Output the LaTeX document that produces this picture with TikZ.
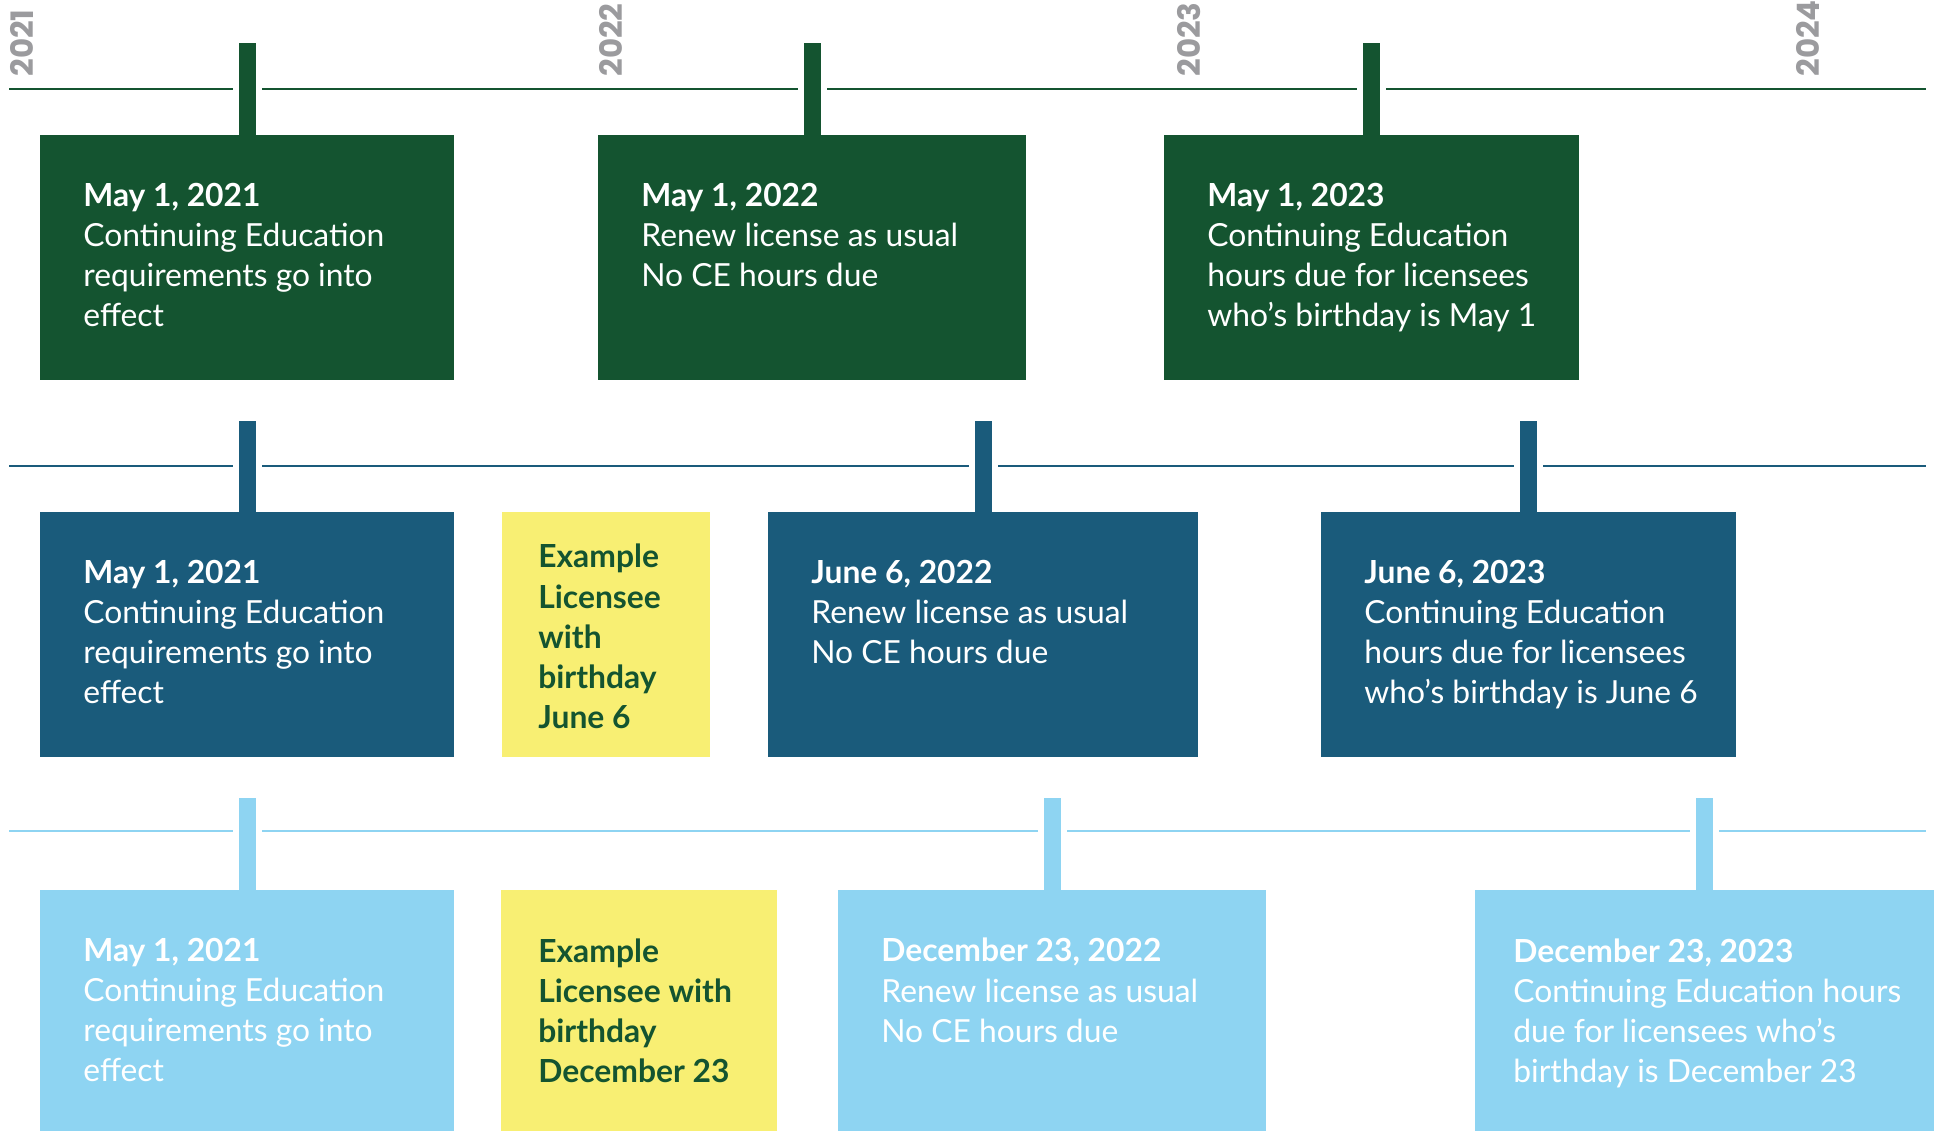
\documentclass[tikz,border=0pt]{standalone}
\usepackage{fontspec}
\setmainfont{Lato}
\newfontfamily\yearfont{Poppins}
\definecolor{ceGreen}{HTML}{145430}
\definecolor{ceBlue}{HTML}{1A5B7B}
\definecolor{ceSky}{HTML}{8ED4F2}
\definecolor{ceYellow}{HTML}{F8EF73}
\definecolor{ceGray}{HTML}{9B9B9E}
\tikzset{
	card/.style={rectangle, anchor=north west, inner sep=0pt, minimum height=4.9cm},
	greenbox/.style={card, fill=ceGreen},
	bluebox/.style={card, fill=ceBlue},
	skybox/.style={card, fill=ceSky},
	notebox/.style={card, fill=ceYellow},
	boxtext/.style={anchor=north west, inner sep=0pt, align=left, text=white, font=\fontsize{18.1}{22.8}\selectfont},
	notetext/.style={boxtext, text=ceGreen, font=\fontsize{18.1}{22.8}\selectfont\bfseries},
	peg/.style={line width=0.34cm, preaction={draw=white, line width=0.58cm}},
	yearlabel/.style={anchor=west, rotate=90, inner sep=0pt, text=ceGray, font=\yearfont\fontsize{17.6}{20}\selectfont\bfseries}
}

\begin{document}
\begin{tikzpicture}[x=0.02cm, y=-0.02cm]
		\useasboundingbox (0,0) rectangle (1940,1130);
		% years
		\node [yearlabel] (y21) at (22, 77) {2021};
		\node [yearlabel] (y22) at (611, 77) {2022};
		\node [yearlabel] (y23) at (1189, 77) {2023};
		\node [yearlabel] (y24) at (1808, 77) {2024};
		% time lines
		\draw [ceGreen, line width=0.05cm] (9, 89) -- (1926, 89);
		\draw [ceBlue, line width=0.05cm] (9, 466) -- (1926, 466);
		\draw [ceSky, line width=0.05cm] (9, 831) -- (1926, 831);
		% first row
		\node [greenbox, minimum width=8.28cm] (g1) at (40, 135) {};
		\node [greenbox, minimum width=8.56cm] (g2) at (598, 135) {};
		\node [greenbox, minimum width=8.3cm] (g3) at (1164, 135) {};
		\node [boxtext] (g1t) at ([shift={(43, 48)}]g1.north west) {\textbf{May 1, 2021}\\Continuing Education\\requirements go into\\effect};
		\node [boxtext] (g2t) at ([shift={(43, 48)}]g2.north west) {\textbf{May 1, 2022}\\Renew license as usual\\No CE hours due};
		\node [boxtext] (g3t) at ([shift={(43, 48)}]g3.north west) {\textbf{May 1, 2023}\\Continuing Education\\hours due for licensees\\who’s birthday is May 1};
		\draw [peg, ceGreen] (g1.north) -- ++(0, -92);
		\draw [peg, ceGreen] (g2.north) -- ++(0, -92);
		\draw [peg, ceGreen] (g3.north) -- ++(0, -92);
		% second row
		\node [bluebox, minimum width=8.28cm] (b1) at (40, 512) {};
		\node [notebox, minimum width=4.16cm] (n1) at (502, 512) {};
		\node [bluebox, minimum width=8.6cm] (b2) at (768, 512) {};
		\node [bluebox, minimum width=8.3cm] (b3) at (1321, 512) {};
		\node [boxtext] (b1t) at ([shift={(43, 48)}]b1.north west) {\textbf{May 1, 2021}\\Continuing Education\\requirements go into\\effect};
		\node [notetext] (n1t) at ([shift={(36, 32)}]n1.north west) {Example\\Licensee\\with\\birthday\\June 6};
		\node [boxtext] (b2t) at ([shift={(43, 48)}]b2.north west) {\textbf{June 6, 2022}\\Renew license as usual\\No CE hours due};
		\node [boxtext] (b3t) at ([shift={(43, 48)}]b3.north west) {\textbf{June 6, 2023}\\Continuing Education\\hours due for licensees\\who’s birthday is June 6};
		\draw [peg, ceBlue] (b1.north) -- ++(0, -91);
		\draw [peg, ceBlue] (b2.north) -- ++(0, -91);
		\draw [peg, ceBlue] (b3.north) -- ++(0, -91);
		% third row
		\node [skybox, minimum width=8.28cm] (s1) at (40, 890) {};
		\node [notebox, minimum width=5.52cm] (n2) at (501, 890) {};
		\node [skybox, minimum width=8.56cm] (s2) at (838, 890) {};
		\node [skybox, minimum width=9.18cm] (s3) at (1475, 890) {};
		\node [boxtext] (s1t) at ([shift={(43, 48)}]s1.north west) {\textbf{May 1, 2021}\\Continuing Education\\requirements go into\\effect};
		\node [notetext] (n2t) at ([shift={(37, 48)}]n2.north west) {Example\\Licensee with\\birthday\\December 23};
		\node [boxtext] (s2t) at ([shift={(43, 48)}]s2.north west) {\textbf{December 23, 2022}\\Renew license as usual\\No CE hours due};
		\node [boxtext] (s3t) at ([shift={(38, 48)}]s3.north west) {\textbf{December 23, 2023}\\Continuing Education hours\\due for licensees who’s\\birthday is December 23};
		\draw [peg, ceSky] (s1.north) -- ++(0, -92);
		\draw [peg, ceSky] (s2.north) -- ++(0, -92);
		\draw [peg, ceSky] (s3.north) -- ++(0, -92);
	\end{tikzpicture}
\end{document}
